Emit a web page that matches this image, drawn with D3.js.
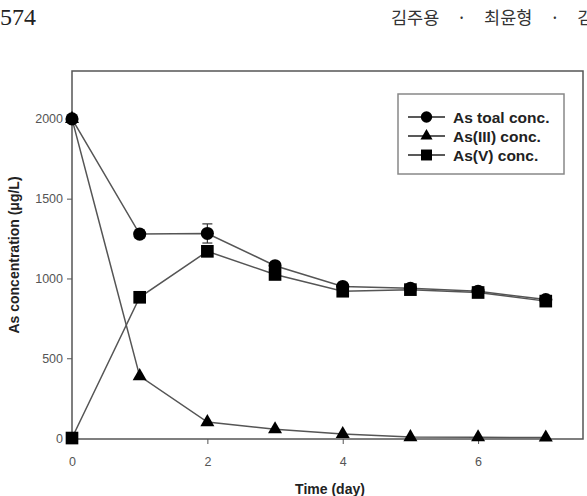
<!DOCTYPE html>
<html>
<head>
<meta charset="utf-8">
<script src="https://cdn.jsdelivr.net/npm/d3@7"></script>
<style>
  body { margin: 0; background: #fff; }
  svg { display: block; }
</style>
</head>
<body>
<svg id="chart" width="587" height="496"></svg>
<script>
// data
var days = [0, 1, 2, 3, 4, 5, 6, 7];
var totalConc = [2000, 1278, 1282, 1080, 950, 938, 920, 868];
var totalErr = [0, 25, 60, 15, 10, 8, 10, 8];
var as3Conc = [2000, 388, 100, 55, 25, 6, 5, 3];
var as5Conc = [0, 882, 1170, 1025, 920, 930, 912, 858];
var xTicks = [0, 2, 4, 6];
var yTicks = [0, 500, 1000, 1500, 2000];
var legendLabels = ["As toal conc.", "As(III) conc.", "As(V) conc."];

var svg = d3.select("#chart");

// page header (journal page)
svg.append("text")
    .attr("x", 0).attr("y", 25)
    .style("font-family", "'Liberation Serif', 'DejaVu Serif', serif")
    .style("font-size", "24px")
    .style("fill", "#222")
    .text("574");
svg.append("text")
    .attr("x", 391).attr("y", 24)
    .style("font-family", "'Noto Sans CJK KR', sans-serif")
    .style("font-size", "17.5px")
    .style("fill", "#333")
    .text("김주용\u2003·\u2003최윤형\u2003·\u2003김");

// plot box edges
var plotL = 72, plotR = 583, plotT = 71, plotB = 439;

var x = d3.scaleLinear().domain([0, 7.55]).range([plotL, plotR]);
var y = d3.scaleLinear().domain([-6, 2300]).range([plotB, plotT]);

var axisColor = "#555";

// frame
svg.append("rect")
    .attr("x", plotL).attr("y", plotT)
    .attr("width", plotR - plotL).attr("height", plotB - plotT)
    .style("fill", "none")
    .style("stroke", axisColor)
    .style("stroke-width", "1.5px");

var xAxis = svg.append("g")
    .attr("transform", "translate(0," + plotB + ")")
    .call(d3.axisBottom(x).tickValues(xTicks).tickSize(5).tickPadding(13).tickFormat(d3.format("d")));
var yAxis = svg.append("g")
    .attr("transform", "translate(" + plotL + ",0)")
    .call(d3.axisLeft(y).tickValues(yTicks).tickSize(5).tickPadding(4).tickFormat(d3.format("d")));

[xAxis, yAxis].forEach(function(g) {
    g.select(".domain").remove();
    g.selectAll("line").style("stroke", axisColor).style("stroke-width", "1px");
    g.selectAll("text")
        .style("font-family", "'Liberation Sans', Arial, sans-serif")
        .style("font-size", "12.5px")
        .style("fill", "#555");
});

// axis titles
svg.append("text")
    .attr("x", 330).attr("y", 494)
    .attr("text-anchor", "middle")
    .style("font-family", "'Liberation Sans', Arial, sans-serif")
    .style("font-weight", "bold")
    .style("font-size", "14px")
    .style("fill", "#222")
    .text("Time (day)");
svg.append("text")
    .attr("transform", "translate(19," + 255 + ") rotate(-90)")
    .attr("text-anchor", "middle")
    .style("font-family", "'Liberation Sans', Arial, sans-serif")
    .style("font-weight", "bold")
    .style("font-size", "14px")
    .style("fill", "#222")
    .text("As concentration (\u03bcg/L)");

var series = [
    { name: legendLabels[0], values: totalConc, shape: d3.symbolCircle, size: 135 },
    { name: legendLabels[1], values: as3Conc, shape: d3.symbolTriangle, size: 85 },
    { name: legendLabels[2], values: as5Conc, shape: d3.symbolSquare, size: 160 }
];

var line = d3.line()
    .x(function(d) { return x(d.day); })
    .y(function(d) { return y(d.v); });

// lines
series.forEach(function(s) {
    var pts = days.map(function(d, i) { return { day: d, v: s.values[i] }; });
    svg.append("path")
        .datum(pts)
        .attr("d", line)
        .style("fill", "none")
        .style("stroke", "#555")
        .style("stroke-width", "1.5px");
});

// error bars on total
days.forEach(function(d, i) {
    if (!totalErr[i]) return;
    var g = svg.append("g").style("stroke", "#333").style("stroke-width", "1.2px");
    g.append("line")
        .attr("x1", x(d)).attr("x2", x(d))
        .attr("y1", y(totalConc[i] - totalErr[i])).attr("y2", y(totalConc[i] + totalErr[i]));
    [totalConc[i] - totalErr[i], totalConc[i] + totalErr[i]].forEach(function(v) {
        g.append("line")
            .attr("x1", x(d) - 5).attr("x2", x(d) + 5)
            .attr("y1", y(v)).attr("y2", y(v));
    });
});

// markers
series.forEach(function(s) {
    svg.append("g").selectAll("path")
        .data(days)
        .enter().append("path")
        .attr("transform", function(d, i) { return "translate(" + x(d) + "," + y(s.values[i]) + ")"; })
        .attr("d", d3.symbol().type(s.shape).size(s.size))
        .style("fill", "#000");
});

// legend
var lg = svg.append("g").attr("transform", "translate(398,94)");
lg.append("rect")
    .attr("width", 166).attr("height", 80)
    .style("fill", "#fff")
    .style("stroke", "#888")
    .style("stroke-width", "1.5px");
series.forEach(function(s, i) {
    var ly = 23 + i * 19;
    lg.append("line")
        .attr("x1", 10).attr("x2", 47)
        .attr("y1", ly).attr("y2", ly)
        .style("stroke", "#222")
        .style("stroke-width", "1.5px");
    lg.append("path")
        .attr("transform", "translate(28.5," + ly + ")")
        .attr("d", d3.symbol().type(s.shape).size(s.size * 0.75))
        .style("fill", "#000");
    lg.append("text")
        .attr("x", 55).attr("y", ly + 5.5)
        .style("font-family", "'Liberation Sans', Arial, sans-serif")
        .style("font-weight", "bold")
        .style("font-size", "15.5px")
        .style("fill", "#222")
        .text(s.name);
});
</script>
</body>
</html>
